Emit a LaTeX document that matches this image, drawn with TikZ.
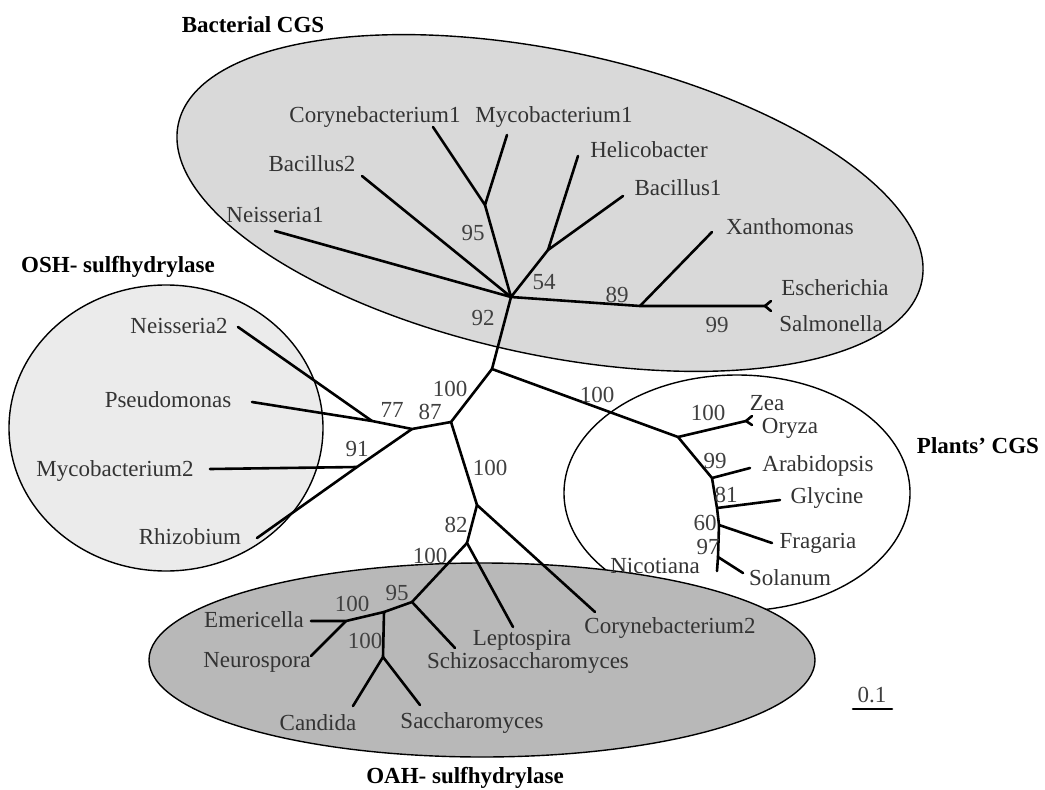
\documentclass[tikz,border=0pt]{standalone}
\usepackage{fontspec}
\setmainfont{Liberation Serif}
\usetikzlibrary{calc}

\begin{document}
\begin{tikzpicture}[x=1pt,y=-1pt,
    br/.style={line width=2.6pt,line cap=round,line join=round},
    sp/.style={font=\fontsize{23}{27}\selectfont,inner sep=0pt,text=black!80},
    bs/.style={font=\fontsize{23}{27}\selectfont,inner sep=0pt,text=black!75},
    grp/.style={font=\bfseries\fontsize{23}{27}\selectfont,inner sep=0pt},
    clade/.style={draw,line width=1.4pt}]
    \useasboundingbox (0,0) rectangle (1045,790);
    % the four groups
    \draw[clade,fill=white] (737,493) ellipse (173pt and 118pt);
    \draw[clade,fill=black!15,rotate around={-12:(550,203)}] (550,203) ellipse (380pt and 152pt);
    \draw[clade,fill=black!8] (166,428) ellipse (157pt and 143pt);
    \draw[clade,fill=black!28] (482,660) ellipse (333pt and 97pt);
    \node[grp] (bact) at (253,25) {Bacterial CGS};
    \node[grp] (osh) at (118,267) {OSH- sulfhydrylase};
    \node[grp] (plant) at (978,446) {Plants' CGS};
    \node[grp] (oah) at (465,778) {OAH- sulfhydrylase};
    % inner nodes of the tree
    \coordinate (hub) at (511,297);
    \coordinate (cm) at (485,205);
    \coordinate (hb) at (548,250);
    \coordinate (xn) at (640,306);
    \coordinate (es) at (765,306);
    \coordinate (C) at (492,369);
    \coordinate (o87) at (451,422);
    \coordinate (o77) at (412,429);
    \coordinate (nps) at (372,421);
    \coordinate (o91) at (357,467);
    \coordinate (P1) at (678,437);
    \coordinate (zo) at (746,421);
    \coordinate (P2) at (712,478);
    \coordinate (P3) at (717,508);
    \coordinate (P4) at (719,525);
    \coordinate (P5) at (718,557);
    \coordinate (L1) at (477,505);
    \coordinate (L2) at (467,543);
    \coordinate (L3) at (412,602);
    \coordinate (L4) at (384,612);
    \coordinate (L5) at (346,621);
    \coordinate (L6) at (383,657);
    % leaves
    \coordinate (n1t) at (275,231);
    \coordinate (b2t) at (362,176);
    \coordinate (c1t) at (433,127);
    \coordinate (m1t) at (507,135);
    \coordinate (het) at (578,156);
    \coordinate (b1t) at (623,196);
    \coordinate (xat) at (712,232);
    \coordinate (ect) at (771,301);
    \coordinate (sat) at (771,311);
    \coordinate (n2t) at (238,327);
    \coordinate (pst) at (252,402);
    \coordinate (m2t) at (210,469);
    \coordinate (rht) at (257,538);
    \coordinate (zet) at (752,416);
    \coordinate (ort) at (752,425);
    \coordinate (art) at (750,468);
    \coordinate (glt) at (780,500);
    \coordinate (frt) at (772,543);
    \coordinate (sot) at (743,573);
    \coordinate (nit) at (717,571);
    \coordinate (c2t) at (595,612);
    \coordinate (let) at (513,627);
    \coordinate (sct) at (455,648);
    \coordinate (emt) at (311,621);
    \coordinate (net) at (311,656);
    \coordinate (cat) at (353,706);
    \coordinate (smt) at (420,705);
    % branches
    \draw[br] (c1t) -- (cm) -- (m1t);
    \draw[br] (het) -- (hb) -- (b1t);
    \draw[br] (n1t) -- (hub) -- (b2t);
    \draw[br] (cm) -- (hub) -- (hb);
    \draw[br] (hub) -- (xn) -- (es);
    \draw[br] (xn) -- (xat);
    \draw[br] (ect) -- (es) -- (sat);
    \draw[br] (hub) -- (C) -- (P1);
    \draw[br] (C) -- (o87) -- (o77) -- (nps) -- (pst);
    \draw[br] (nps) -- (n2t);
    \draw[br] (o77) -- (o91) -- (rht);
    \draw[br] (o91) -- (m2t);
    \draw[br] (P1) -- (zo);
    \draw[br] (zet) -- (zo) -- (ort);
    \draw[br] (P1) -- (P2) -- (P3) -- (P4) -- (P5) -- (nit);
    \draw[br] (P2) -- (art);
    \draw[br] (P3) -- (glt);
    \draw[br] (P4) -- (frt);
    \draw[br] (P5) -- (sot);
    \draw[br] (o87) -- (L1) -- (c2t);
    \draw[br] (L1) -- (L2) -- (let);
    \draw[br] (L2) -- (L3) -- (sct);
    \draw[br] (L3) -- (L4) -- (L5) -- (emt);
    \draw[br] (L5) -- (net);
    \draw[br] (L4) -- (L6) -- (cat);
    \draw[br] (L6) -- (smt);
    % species names
    \node[sp] (coryne1) at (375,117) {Corynebacterium1};
    \node[sp] (myco1) at (554,117) {Mycobacterium1};
    \node[sp] (bac2) at (312,164) {Bacillus2};
    \node[sp] (neis1) at (275,215) {Neisseria1};
    \node[sp] (helico) at (649,150) {Helicobacter};
    \node[sp] (bac1) at (678,188) {Bacillus1};
    \node[sp] (xantho) at (790,227) {Xanthomonas};
    \node[sp] (esch) at (835,288) {Escherichia};
    \node[sp] (salmo) at (831,324) {Salmonella};
    \node[sp] (neis2) at (179,326) {Neisseria2};
    \node[sp] (pseudo) at (168,400) {Pseudomonas};
    \node[sp] (myco2) at (115,471) {Mycobacterium2};
    \node[sp] (rhizo) at (190,537) {Rhizobium};
    \node[sp] (zea) at (767,403) {Zea};
    \node[sp] (oryza) at (790,428) {Oryza};
    \node[sp] (arabi) at (818,466) {Arabidopsis};
    \node[sp] (glyc) at (827,498) {Glycine};
    \node[sp] (fraga) at (818,543) {Fragaria};
    \node[sp] (solan) at (790,578) {Solanum};
    \node[sp] (nicot) at (655,566) {Nicotiana};
    \node[sp] (emer) at (254,620) {Emericella};
    \node[sp] (neuro) at (257,662) {Neurospora};
    \node[sp] (candi) at (318,723) {Candida};
    \node[sp] (sacch) at (472,723) {Saccharomyces};
    \node[sp] (lepto) at (522,640) {Leptospira};
    \node[sp] (schizo) at (528,663) {Schizosaccharomyces};
    \node[sp] (coryne2) at (670,628) {Corynebacterium2};
    % bootstrap values
    \node[bs] (bs95) at (473,233) {95};
    \node[bs] (bs54) at (544,282) {54};
    \node[bs] (bs89) at (617,295) {89};
    \node[bs] (bs99) at (717,325) {99};
    \node[bs] (bs92) at (483,318) {92};
    \node[bs] (bs77) at (392,410) {77};
    \node[bs] (bs87) at (430,412) {87};
    \node[bs] (bs91) at (357,449) {91};
    \node[bs] (bsc) at (450,389) {100};
    \node[bs] (bsp) at (597,395) {100};
    \node[bs] (bsz) at (708,413) {100};
    \node[bs] (bsp99) at (715,461) {99};
    \node[bs] (bs81) at (726,495) {81};
    \node[bs] (bs60) at (705,523) {60};
    \node[bs] (bs97) at (708,547) {97};
    \node[bs] (bsl1) at (490,468) {100};
    \node[bs] (bs82) at (456,525) {82};
    \node[bs] (bsl3) at (430,556) {100};
    \node[bs] (bsl95) at (397,593) {95};
    \node[bs] (bsl5) at (352,604) {100};
    \node[bs] (bsl6) at (365,641) {100};
    % scale bar
    \node[bs] (scale) at (872,695) {0.1};
    \coordinate (sb1) at (853,709);
    \coordinate (sb2) at (892,709);
    \draw[br] (sb1) -- (sb2);
\end{tikzpicture}
\end{document}
